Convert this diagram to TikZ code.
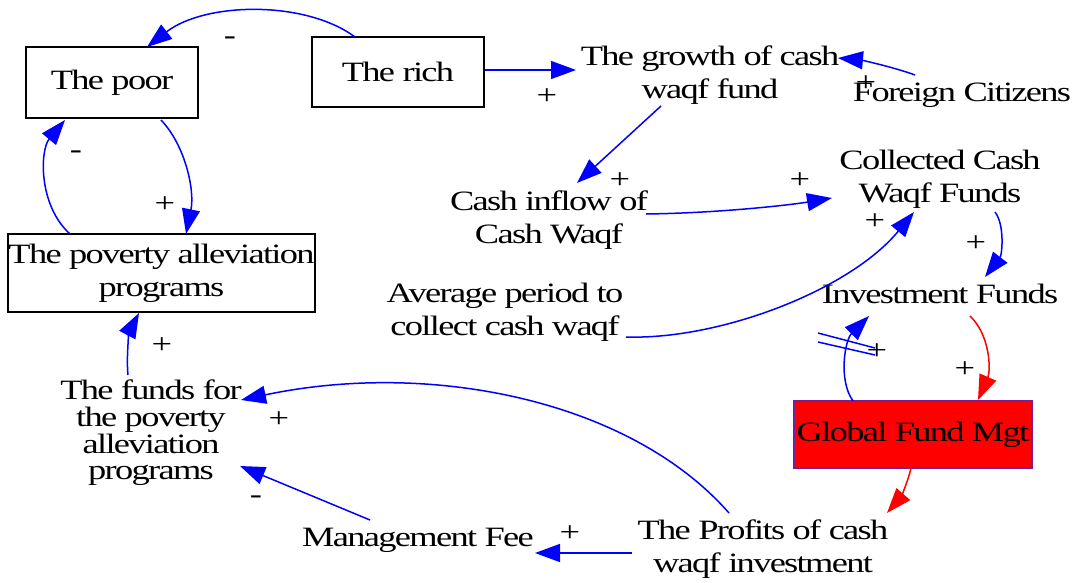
\documentclass[tikz,border=0pt]{standalone}
\usepackage{fontspec}
\setmainfont{Liberation Serif}[FakeStretch=1.30,LetterSpace=-6]
\usetikzlibrary{arrows.meta,calc}
\definecolor{linkblue}{RGB}{0,0,255}
\definecolor{linkred}{RGB}{255,0,0}
\definecolor{mgtborder}{RGB}{120,30,150}
\newcommand{\varfont}{\fontsize{28}{33}\selectfont}
\newcommand{\tightfont}{\fontsize{28}{26.7}\selectfont}

\begin{document}
\begin{tikzpicture}[x=1pt,y=-1pt,
  var/.style={font=\varfont, align=center, inner sep=0pt, outer sep=0pt},
  box/.style={var, draw=black, line width=1.3pt},
  pol/.style={font=\varfont, inner sep=0pt, outer sep=0pt},
  link/.style={draw=linkblue, line width=1.5pt, -{Triangle[length=25pt,width=18pt]}},
  redlink/.style={link, draw=linkred},
  delaymark/.style={draw=linkblue, line width=1.5pt}
]
\useasboundingbox (0,0) rectangle (1074,583);

% boxed variables
\node[box, minimum width=172pt, minimum height=71pt] (poor) at (112,82.5) {The poor};
\node[box, minimum width=172pt, minimum height=70pt] (rich) at (398,72) {The rich};
\node[box, minimum width=307pt, minimum height=78pt] (progs) at (161.5,273) {The poverty alleviation\\programs};
\node[box, draw=mgtborder, fill=linkred, minimum width=238pt, minimum height=67pt] (gfm) at (913,434.5) {Global Fund Mgt};

% plain variables
\node[var] (growth) at (710,75.5) {The growth of cash\\waqf fund};
\node[var] (foreign) at (962,95.5) {Foreign Citizens};
\node[var] (inflow) at (549,220.5) {Cash inflow of\\Cash Waqf};
\node[var] (collected) at (940,179) {Collected Cash\\Waqf Funds};
\node[var] (invest) at (940,293.5) {Investment Funds};
\node[var] (avg) at (505,312.5) {Average period to\\collect cash waqf};
\node[var] (profits) at (763,549.5) {The Profits of cash\\waqf investment};
\node[var] (mgmt) at (418,540.5) {Management Fee};
\node[var, font=\tightfont] (funds) at (151,433) {The funds for\\the poverty\\alleviation\\programs};

% causal links
\draw[link] ($(rich)+(-43,-35)$) .. controls (305,0) and (205,2) .. ($(poor)+(35,-35.5)$);
\draw[link] ($(rich)+(87,-2)$) -- ($(growth)+(-134,-5.5)$);
\draw[link] ($(foreign)+(-47,-20.5)$) .. controls (890,66) and (860,60) .. ($(growth)+(128,-17.5)$);
\draw[link] ($(growth)+(-49,30.5)$) -- ($(inflow)+(28,-37.5)$);
\draw[link] ($(inflow)+(97,-6.5)$) .. controls (720,213) and (790,205) .. ($(collected)+(-108,19)$);
\draw[link] ($(avg)+(121,24.5)$) .. controls (720,340) and (850,290) .. ($(collected)+(-26,33)$);
\draw[link] ($(collected)+(55,33)$) .. controls (1005,225) and (1002,255) .. ($(invest)+(45,-16.5)$);
\draw[redlink] ($(invest)+(30,22.5)$) .. controls (990,335) and (991,370) .. ($(gfm)+(65,-34.5)$);
\draw[link] ($(gfm)+(-60,-33.5)$) .. controls (838,380) and (845,340) .. ($(invest)+(-71,22.5)$);
\draw[redlink] ($(gfm)+(-2,33.5)$) .. controls (908,482) and (900,498) .. ($(profits)+(124,-36.5)$);
\draw[link] ($(profits)+(-34,-36.5)$) .. controls (630,400) and (430,360) .. ($(funds)+(90,-33)$);
\draw[link] ($(profits)+(-131,3.5)$) -- ($(mgmt)+(117,12.5)$);
\draw[link] ($(mgmt)+(-48,-20.5)$) -- ($(funds)+(89,33)$);
\draw[link] ($(funds)+(-23,-58)$) .. controls (126,355) and (130,330) .. ($(progs)+(-22.5,40)$);
\draw[link] ($(poor)+(49,37.5)$) .. controls (185,145) and (195,190) .. ($(progs)+(24.5,-39)$);
\draw[link] ($(progs)+(-91.5,-39)$) .. controls (38,205) and (40,150) .. ($(poor)+(-47,37.5)$);

% delay mark on the Global Fund Mgt -> Investment Funds link
\draw[delaymark] ($(invest)+(-122,39.5)$) -- ($(invest)+(-65,54.5)$);
\draw[delaymark] ($(invest)+(-122,48.5)$) -- ($(invest)+(-65,61.5)$);

% link polarities
\node[pol] (s1) at (230,41) {-};
\node[pol] (s2) at (547,97) {+};
\node[pol] (s3) at (866,84) {+};
\node[pol] (s4) at (620,181) {+};
\node[pol] (s5) at (800,181) {+};
\node[pol] (s6) at (875,222) {+};
\node[pol] (s7) at (976,244) {+};
\node[pol] (s8) at (965,370) {+};
\node[pol] (s9) at (877,352) {+};
\node[pol] (s10) at (279,420) {+};
\node[pol] (s11) at (570,534) {+};
\node[pol] (s12) at (256,500) {-};
\node[pol] (s13) at (162,346) {+};
\node[pol] (s14) at (165,205) {+};
\node[pol] (s15) at (76,155) {-};
\end{tikzpicture}
\end{document}
